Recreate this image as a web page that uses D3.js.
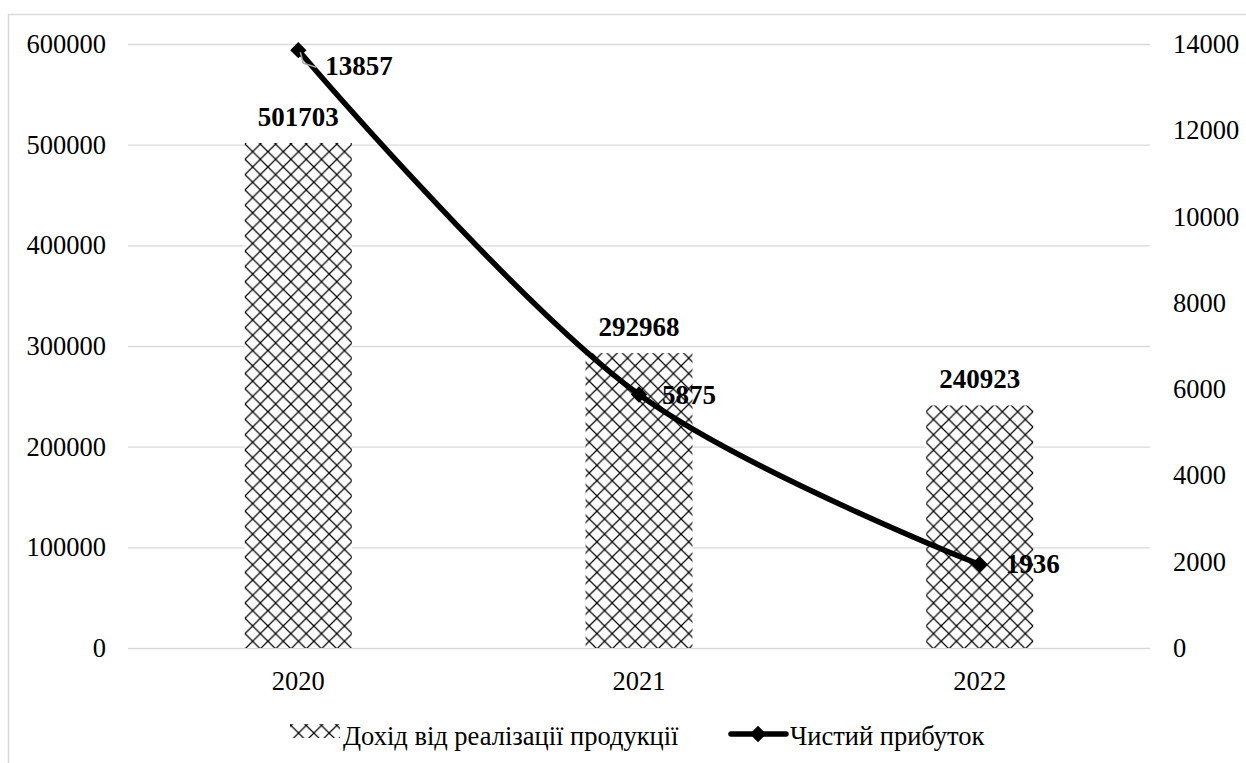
<!DOCTYPE html>
<html><head><meta charset="utf-8">
<script src="https://cdn.jsdelivr.net/npm/d3@7"></script>
<style>body{margin:0;background:#fff;font-family:'Liberation Serif',serif}svg{display:block}</style>
</head><body><svg id="c" width="1246" height="763"></svg>
<script>
const years = ["2020","2021","2022"];
const revenue = [501703, 292968, 240923];
const profit = [13857, 5875, 1936];
const leftTicks = [0,100000,200000,300000,400000,500000,600000];
const rightTicks = [0,2000,4000,6000,8000,10000,12000,14000];
const seriesNames = ["Дохід від реалізації продукції","Чистий прибуток"];

const FONT = "'Liberation Serif', 'Times New Roman', serif";
const svg = d3.select("#c");
const FS = 26.5, FB = 27;
const m = {l:128, r:1150, t:44, b:648};
const x = d3.scaleBand().domain(years).range([m.l, m.r]).paddingInner(0).paddingOuter(0);
const yL = d3.scaleLinear().domain([0,600000]).range([m.b, m.t]);
const yR = d3.scaleLinear().domain([0,14000]).range([m.b, m.t]);

// border
svg.append("rect").attr("x",8.5).attr("y",14.5).attr("width",1260).attr("height",800)
  .attr("fill","none").attr("stroke","#d9d9d9").attr("stroke-width",1.5);

// pattern
const defs = svg.append("defs");
const P = 15.3;
const pat = defs.append("pattern").attr("id","hatch").attr("patternUnits","userSpaceOnUse")
  .attr("width",P).attr("height",P).attr("x",245).attr("y",144);
pat.append("rect").attr("width",P).attr("height",P).attr("fill","#fff");
pat.append("path").attr("d",`M0,0L${P},${P}M${P},0L0,${P}`).attr("stroke","#000").attr("stroke-width",1.2);

// gridlines
svg.append("g").selectAll("line").data(leftTicks).join("line")
  .attr("x1",m.l).attr("x2",m.r).attr("y1",d=>yL(d)+0.5).attr("y2",d=>yL(d)+0.5)
  .attr("stroke","#d9d9d9").attr("stroke-width",1.3);

function txt(sel){ return sel.style("font-family",FONT).attr("fill","#000"); }

// left axis labels
txt(svg.append("g").selectAll("text").data(leftTicks).join("text")
  .attr("x",106).attr("y",d=>yL(d)+9).attr("text-anchor","end").attr("font-size",FS)
  .text(d=>d));
// right axis labels
txt(svg.append("g").selectAll("text").data(rightTicks).join("text")
  .attr("x",1173).attr("y",d=>yR(d)+9).attr("text-anchor","start").attr("font-size",FS)
  .text(d=>d));
// x labels
txt(svg.append("g").selectAll("text").data(years).join("text")
  .attr("x",d=>x(d)+x.bandwidth()/2).attr("y",690).attr("text-anchor","middle").attr("font-size",FS)
  .text(d=>d));

// bars
const bw = 107;
svg.append("g").selectAll("rect").data(years).join("rect")
  .attr("x",(d)=>x(d)+x.bandwidth()/2-bw/2).attr("width",bw)
  .attr("y",(d,i)=>yL(revenue[i])).attr("height",(d,i)=>yL(0)-yL(revenue[i]))
  .attr("fill","url(#hatch)");
txt(svg.append("g").selectAll("text").data(years).join("text")
  .attr("x",d=>x(d)+x.bandwidth()/2).attr("y",(d,i)=>yL(revenue[i])-17)
  .attr("text-anchor","middle").attr("font-size",FB).attr("font-weight","bold").text((d,i)=>revenue[i]));

// line
const pts = years.map((d,i)=>[x(d)+x.bandwidth()/2, yR(profit[i])]);
svg.append("path").attr("d",d3.line().curve(d3.curveCatmullRom.alpha(0.5))(pts))
  .attr("fill","none").attr("stroke","#000").attr("stroke-width",5.5).attr("stroke-linejoin","round");
svg.append("g").selectAll("path").data(pts).join("path")
  .attr("transform",p=>`translate(${p[0]},${p[1]})`)
  .attr("d",d3.symbol().type(d3.symbolDiamond2).size(170)).attr("fill","#000");
// leader for first label
svg.append("path").attr("d",`M${pts[0][0]+2},${pts[0][1]+2}L${pts[0][0]+5},${pts[0][1]+13}L${pts[0][0]+18},${pts[0][1]+17}`)
  .attr("fill","none").attr("stroke","#a6a6a6").attr("stroke-width",1.5);
const lblOff = [[27,25],[23,9],[26,9]];
txt(svg.append("g").selectAll("text").data(pts).join("text")
  .attr("x",(p,i)=>p[0]+lblOff[i][0]).attr("y",(p,i)=>p[1]+lblOff[i][1])
  .attr("font-size",FB).attr("font-weight","bold").text((p,i)=>profit[i]));

// legend
svg.append("rect").attr("x",290).attr("y",724).attr("width",50).attr("height",14).attr("fill","url(#hatch)");
txt(svg.append("text").attr("x",343).attr("y",745).attr("font-size",FS).text(seriesNames[0]));
svg.append("line").attr("x1",731).attr("x2",786).attr("y1",734).attr("y2",734).attr("stroke","#000").attr("stroke-width",5.5).attr("stroke-linecap","round");
svg.append("path").attr("transform","translate(758,734)").attr("d",d3.symbol().type(d3.symbolDiamond2).size(170)).attr("fill","#000");
txt(svg.append("text").attr("x",790).attr("y",745).attr("font-size",FS).text(seriesNames[1]));
</script></body></html>
